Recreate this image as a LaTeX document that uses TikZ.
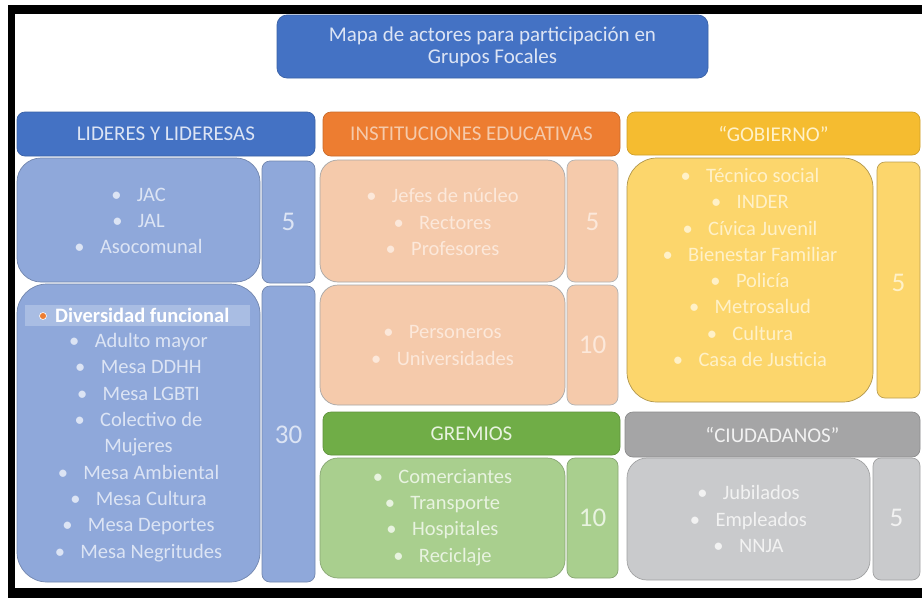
\documentclass[tikz,border=0pt]{standalone}
\usepackage{fontspec}
\setmainfont{Carlito}
\definecolor{bHead}{HTML}{4472C4}
\definecolor{bBox}{HTML}{8FA8DA}
\definecolor{bTxt}{HTML}{DCE4F4}
\definecolor{bHl}{HTML}{A9BDE3}
\definecolor{oHead}{HTML}{ED7D31}
\definecolor{oBox}{HTML}{F5CAAB}
\definecolor{oTxt}{HTML}{FCE8DA}
\definecolor{yHead}{HTML}{F5BC30}
\definecolor{yBox}{HTML}{FCD66C}
\definecolor{yTxt}{HTML}{FFF1C8}
\definecolor{gHead}{HTML}{70AD47}
\definecolor{gBox}{HTML}{A9CF8E}
\definecolor{gTxt}{HTML}{E8F3E0}
\definecolor{kHead}{HTML}{A5A5A6}
\definecolor{kBox}{HTML}{C9CACC}
\definecolor{kTxt}{HTML}{F2F2F2}
\definecolor{bulOr}{HTML}{ED7D31}
\newcommand\bul[1]{\textbullet\hspace{0.75em}#1}
\tikzset{
  box/.style={rectangle, inner sep=0pt, line width=0.7pt},
  head/.style={box, rounded corners=8pt, font=\fontsize{21}{24}\selectfont},
  cbox/.style={box, rounded corners=24pt},
  nbox/.style={box, rounded corners=8pt},
  items/.style={align=center, font=\fontsize{20.5}{26.3}\selectfont, inner sep=0pt},
  num/.style={font=\fontsize{27}{30}\selectfont, inner sep=0pt},
}
\begin{document}
\begin{tikzpicture}[x=1pt, y=-1pt]
\useasboundingbox (0,0) rectangle (922,598);
\fill[white] (0,0) rectangle (922,598);
% frame
\fill[black] (8,5) rectangle (922,14);
\fill[black] (8,5) rectangle (15,598);
\fill[black] (8,588) rectangle (922,598);

% title
\node[box, rounded corners=10pt, fill=bHead, draw=bHead!85!black, minimum width=431pt, minimum height=63pt,
      text=bTxt, align=center, font=\fontsize{21}{22}\selectfont] (title) at (492.5,46.5)
      {Mapa de actores para participación en\\Grupos Focales};

% ---- blue group
\node[head, fill=bHead, draw=bHead!85!black, minimum width=298pt, minimum height=44pt, text=bTxt] (hL) at (166,134) {LIDERES Y LIDERESAS};
\node[cbox, fill=bBox, draw=bBox!80!black, minimum width=243pt, minimum height=124pt] (bL1) at (138.5,220) {};
\node[nbox, fill=bBox, draw=bBox!80!black, minimum width=53pt, minimum height=122pt] (nL1) at (288.5,222) {};
\node[cbox, rounded corners=30pt, fill=bBox, draw=bBox!80!black, minimum width=243pt, minimum height=298pt] (bL2) at (138.5,433) {};
\node[nbox, fill=bBox, draw=bBox!80!black, minimum width=53pt, minimum height=296pt] (nL2) at (288.5,434) {};
\node[items, text=bTxt] (tL1) at (138.5,221) {\bul{JAC}\\\bul{JAL}\\\bul{Asocomunal}};
\node[num, text=bTxt] (vL1) at (nL1) {5};
\fill[bHl] (25,305) rectangle (250,326);
\node[circle, fill=bulOr, draw=white, line width=0.6pt, inner sep=0pt, minimum size=7pt] (dotL) at (43,316) {};
\node[anchor=west, inner sep=0pt, text=white, font=\fontsize{20.5}{24}\selectfont\bfseries] (tDiv) at (55,315.5) {Diversidad funcional};
\node[items, text=bTxt] (tL2) at (138.5,447.5) {\bul{Adulto mayor}\\\bul{Mesa DDHH}\\\bul{Mesa LGBTI}\\\bul{Colectivo de}\\Mujeres\\\bul{Mesa Ambiental}\\\bul{Mesa Cultura}\\\bul{Mesa Deportes}\\\bul{Mesa Negritudes}};
\node[num, text=bTxt] (vL2) at (288.5,435) {30};

% ---- orange group
\node[head, fill=oHead, draw=oHead!85!black, minimum width=297pt, minimum height=44pt, text=oBox] (hI) at (471.5,134) {INSTITUCIONES EDUCATIVAS};
\node[cbox, rounded corners=18pt, fill=oBox, draw=black!35, minimum width=245pt, minimum height=122pt] (bI1) at (442.5,221) {};
\node[nbox, fill=oBox, draw=black!30, minimum width=51pt, minimum height=122pt] (nI1) at (592.5,221) {};
\node[cbox, rounded corners=18pt, fill=oBox, draw=black!35, minimum width=245pt, minimum height=120pt] (bI2) at (442.5,345) {};
\node[nbox, fill=oBox, draw=black!30, minimum width=51pt, minimum height=120pt] (nI2) at (592.5,345) {};
\node[items, text=oTxt] (tI1) at (442.5,222) {\bul{Jefes de núcleo}\\\bul{Rectores}\\\bul{Profesores}};
\node[num, text=oTxt] (vI1) at (592.5,222) {5};
\node[items, text=oTxt] (tI2) at (442.5,345.5) {\bul{Personeros}\\\bul{Universidades}};
\node[num, text=oTxt] (vI2) at (592.5,345) {10};

% ---- yellow group
\node[head, fill=yHead, draw=yHead!85!black, minimum width=293pt, minimum height=43pt, text=yTxt] (hG) at (773.5,133.5) {“GOBIERNO”};
\node[cbox, rounded corners=30pt, fill=yBox, draw=yBox!70!black, minimum width=246pt, minimum height=244pt] (bG) at (750,280) {};
\node[nbox, fill=yBox, draw=yBox!75!black, minimum width=43pt, minimum height=236pt] (nG) at (898.5,280) {};
\node[items, text=yTxt] (tG) at (750,267.5) {\bul{Técnico social}\\\bul{INDER}\\\bul{Cívica Juvenil}\\\bul{Bienestar Familiar}\\\bul{Policía}\\\bul{Metrosalud}\\\bul{Cultura}\\\bul{Casa de Justicia}};
\node[num, text=yTxt] (vG) at (898.5,283) {5};

% ---- green group
\node[head, fill=gHead, draw=gHead!85!black, minimum width=297pt, minimum height=43pt, text=gTxt] (hR) at (471.5,433.5) {GREMIOS};
\node[cbox, rounded corners=18pt, fill=gBox, draw=gBox!80!black, minimum width=245pt, minimum height=120pt] (bR) at (442.5,518) {};
\node[nbox, fill=gBox, draw=gBox!80!black, minimum width=51pt, minimum height=120pt] (nR) at (592.5,518) {};
\node[items, text=gTxt] (tR) at (442.5,517.5) {\bul{Comerciantes}\\\bul{Transporte}\\\bul{Hospitales}\\\bul{Reciclaje}};
\node[num, text=gTxt] (vR) at (592.5,518) {10};

% ---- grey group
\node[head, fill=kHead, draw=kHead!85!black, minimum width=295pt, minimum height=45pt, text=kTxt] (hC) at (772.5,434.5) {“CIUDADANOS”};
\node[cbox, rounded corners=20pt, fill=kBox, draw=kBox!80!black, minimum width=243pt, minimum height=122pt] (bC) at (748.5,519) {};
\node[nbox, fill=kBox, draw=kBox!80!black, minimum width=47pt, minimum height=122pt] (nC) at (896.5,519) {};
\node[items, text=kTxt] (tC) at (748.5,519) {\bul{Jubilados}\\\bul{Empleados}\\\bul{NNJA}};
\node[num, text=kTxt] (vC) at (896.5,518) {5};
\end{tikzpicture}
\end{document}
